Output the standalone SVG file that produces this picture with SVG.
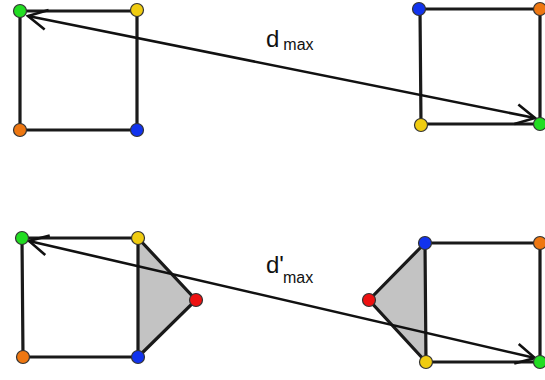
<svg xmlns="http://www.w3.org/2000/svg" width="545" height="380" viewBox="0 0 545 380">
<defs>
<marker id="ah" viewBox="0 0 24 24" refX="22" refY="12" markerWidth="24" markerHeight="24" markerUnits="userSpaceOnUse" orient="auto-start-reverse">
<path d="M3,2 L22,12 L3,22" fill="none" stroke="#111" stroke-width="2.6"/>
</marker>
</defs>
<style>
.e{stroke:#1a1a1a;stroke-width:3.2;fill:none;stroke-linecap:round}
.t{fill:#c3c3c3;stroke:none}
.n{stroke:#333;stroke-width:1.2}
.g{fill:#22dd22}.y{fill:#f0cc10}.o{fill:#ee7711}.b{fill:#1133ee}.r{fill:#ee1111}
.a{stroke:#111;stroke-width:2.6;fill:none}
text{font-family:"Liberation Sans",Arial,sans-serif;fill:#111}
</style>
<g id="fills">
<polygon class="t" points="138,238 196,300 138,357"/>
<polygon class="t" points="425,243 369,300 426,362"/>
</g>
<g id="edges">
<path class="e" d="M20,11 H137 V130 H20 Z"/>
<path class="e" d="M420,9 H540 V124 H421 Z"/>
<path class="e" d="M22,238 H138 V357 H23 Z M138,238 L196,300 L138,357"/>
<path class="e" d="M425,243 H540 V362 H426 Z M425,243 L369,300 L426,362"/>
</g>
<g id="connectors">
<line class="a" x1="28" y1="16" x2="535" y2="118" marker-start="url(#ah)" marker-end="url(#ah)"/>
<line class="a" x1="29" y1="241" x2="535" y2="358" marker-start="url(#ah)" marker-end="url(#ah)"/>
</g>
<g id="nodes">
<circle class="n g" cx="20" cy="11" r="6.5"/>
<circle class="n y" cx="137" cy="10" r="6.5"/>
<circle class="n o" cx="20" cy="130" r="6.5"/>
<circle class="n b" cx="137" cy="130" r="6.5"/>
<circle class="n b" cx="419" cy="9" r="6.5"/>
<circle class="n o" cx="540" cy="9" r="6.5"/>
<circle class="n y" cx="421" cy="125" r="6.5"/>
<circle class="n g" cx="540" cy="124" r="6.5"/>
<circle class="n g" cx="22" cy="238" r="6.5"/>
<circle class="n y" cx="138" cy="238" r="6.5"/>
<circle class="n r" cx="196" cy="300" r="6.5"/>
<circle class="n o" cx="23" cy="357" r="6.5"/>
<circle class="n b" cx="138" cy="357" r="6.5"/>
<circle class="n b" cx="425" cy="243" r="6.5"/>
<circle class="n o" cx="540" cy="243" r="6.5"/>
<circle class="n r" cx="369" cy="300" r="6.5"/>
<circle class="n y" cx="426" cy="362" r="6.5"/>
<circle class="n g" cx="540" cy="362" r="6.5"/>
</g>
<g id="labels">
<text x="266" y="47" font-size="24">d<tspan font-size="16" dx="4" dy="3">max</tspan></text>
<text x="266" y="273" font-size="24">d'<tspan font-size="16" dx="-1" dy="10">max</tspan></text>
</g>
</svg>
